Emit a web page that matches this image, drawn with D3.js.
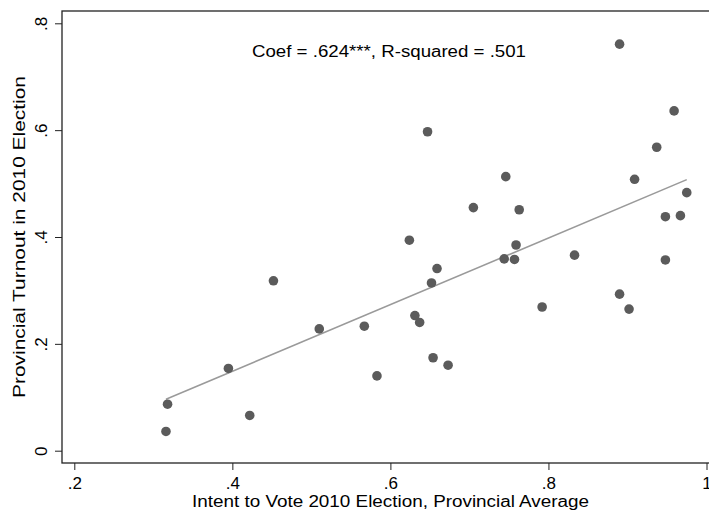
<!DOCTYPE html>
<html>
<head>
<meta charset="utf-8">
<script src="https://cdn.jsdelivr.net/npm/d3@7"></script>
<style>
  body { margin: 0; background: #fff; }
  svg { display: block; font-family: "Liberation Sans", Arial, Helvetica, sans-serif; }
</style>
</head>
<body>
<svg></svg>
<script>
const width = 709,
      height = 512

// intent to vote (provincial average) and turnout in 2010, one pair per province
const intent = [0.316, 0.318, 0.395, 0.422, 0.452, 0.510, 0.567, 0.583, 0.624, 0.631,
                0.637, 0.647, 0.652, 0.654, 0.659, 0.673, 0.705, 0.746, 0.744, 0.757,
                0.759, 0.763, 0.792, 0.833, 0.890, 0.890, 0.902, 0.909, 0.937, 0.948,
                0.948, 0.959, 0.967, 0.975]
const turnout = [0.036, 0.087, 0.154, 0.066, 0.318, 0.228, 0.233, 0.140, 0.394, 0.253,
                 0.240, 0.597, 0.314, 0.174, 0.341, 0.160, 0.455, 0.513, 0.359, 0.358,
                 0.385, 0.451, 0.269, 0.366, 0.293, 0.761, 0.265, 0.508, 0.568, 0.438,
                 0.357, 0.636, 0.440, 0.483]

const xTicks = [0.2, 0.4, 0.6, 0.8, 1]
const yTicks = [0, 0.2, 0.4, 0.6, 0.8]

const fitCoef = 0.624,
      fitIntercept = -0.101
const note = "Coef = .624***, R-squared = .501"
const xTitle = "Intent to Vote 2010 Election, Provincial Average"
const yTitle = "Provincial Turnout in 2010 Election"

const margin = {left: 62, top: 11, bottom: 463}

const x = d3.scaleLinear().domain([0.2, 1]).range([74.3, 706.5])
const y = d3.scaleLinear().domain([0, 0.8]).range([450.7, 23.3])

// stata style numbers: .2 .4 ... 0 1
const fmt = d => d === 0 ? "0" : d === 1 ? "1" : d3.format(".1f")(d).replace(/^0/, "")

const svg = d3.select("svg")
  .attr("width", width)
  .attr("height", height)

// frame
svg.append("rect")
  .attr("x", margin.left)
  .attr("y", margin.top)
  .attr("width", 700)
  .attr("height", margin.bottom - margin.top)
  .attr("fill", "none")
  .attr("stroke", "#222")
  .attr("stroke-width", 1.3)

const xAxis = svg.append("g")
  .attr("transform", `translate(0,${margin.bottom})`)
  .call(d3.axisBottom(x).tickValues(xTicks).tickFormat(fmt).tickSize(7).tickPadding(7))
xAxis.select(".domain").remove()
xAxis.selectAll("line").attr("stroke", "#222")
xAxis.selectAll("text")
  .attr("fill", "#000")
  .style("font-size", "17px")
  .style("font-family", "Liberation Sans, Arial, sans-serif")

const yAxis = svg.append("g")
  .attr("transform", `translate(${margin.left},0)`)
  .call(d3.axisLeft(y).tickValues(yTicks).tickFormat(fmt).tickSize(7))
yAxis.select(".domain").remove()
yAxis.selectAll("line").attr("stroke", "#222")
yAxis.selectAll("text")
  .attr("transform", "rotate(-90)")
  .attr("x", 0)
  .attr("y", -15)
  .attr("dy", 0)
  .attr("text-anchor", "middle")
  .attr("fill", "#000")
  .style("font-size", "17px")
  .style("font-family", "Liberation Sans, Arial, sans-serif")

// fitted line
const [xMin, xMax] = d3.extent(intent)
svg.append("line")
  .attr("x1", x(xMin))
  .attr("y1", y(fitIntercept + fitCoef * xMin))
  .attr("x2", x(xMax))
  .attr("y2", y(fitIntercept + fitCoef * xMax))
  .attr("stroke", "#9a9a9a")
  .attr("stroke-width", 1.6)

svg.append("g")
  .selectAll("circle")
  .data(intent.map((v, i) => [v, turnout[i]]))
  .join("circle")
    .attr("cx", d => x(d[0]))
    .attr("cy", d => y(d[1]))
    .attr("r", 4.8)
    .attr("fill", "#5b5b5b")

svg.append("text")
  .attr("x", 389)
  .attr("y", 57)
  .attr("text-anchor", "middle")
  .attr("textLength", 274)
  .attr("lengthAdjust", "spacingAndGlyphs")
  .style("font-size", "16px")
  .text(note)

svg.append("text")
  .attr("x", 390.5)
  .attr("y", 507)
  .attr("text-anchor", "middle")
  .attr("textLength", 397)
  .attr("lengthAdjust", "spacingAndGlyphs")
  .style("font-size", "16px")
  .text(xTitle)

svg.append("text")
  .attr("transform", "translate(25,237) rotate(-90)")
  .attr("text-anchor", "middle")
  .attr("textLength", 322)
  .attr("lengthAdjust", "spacingAndGlyphs")
  .style("font-size", "16px")
  .text(yTitle)
</script>
</body>
</html>
